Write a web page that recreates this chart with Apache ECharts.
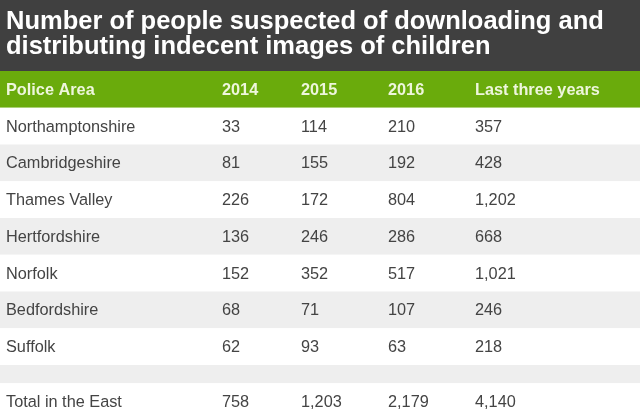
<!DOCTYPE html>
<html>
<head>
<meta charset="utf-8">
<script src="https://cdn.jsdelivr.net/npm/echarts@6/dist/echarts.min.js"></script>
<style>html,body{margin:0;padding:0;background:#fff}#main{width:640px;height:420px}</style>
</head>
<body>
<div id="main"></div>
<script>
// --- data ---
const titleText = 'Number of people suspected of downloading and\ndistributing indecent images of children';
const headers = ['Police Area', '2014', '2015', '2016', 'Last three years'];
const areas = ['Northamptonshire', 'Cambridgeshire', 'Thames Valley', 'Hertfordshire', 'Norfolk', 'Bedfordshire', 'Suffolk'];
const y2014 = [33, 81, 226, 136, 152, 68, 62];
const y2015 = [114, 155, 172, 246, 352, 71, 93];
const y2016 = [210, 192, 804, 286, 517, 107, 63];
const lastThree = [357, 428, 1202, 668, 1021, 246, 218];
const totalLabel = 'Total in the East';
const totals = [758, 1203, 2179, 4140];

// --- layout / styles ---
const colX = [6, 222, 301, 388, 475];
const FONT = '"Liberation Sans", Arial, Helvetica, sans-serif';
const fills = ['#ffffff', '#eeeeee', '#6aab0c'];
const fmt = v => Number(v).toLocaleString('en-US');

// row bands: [top, bottom, fillIndex] in row units
const bands = [[-1, 0, 2]];
areas.forEach((a, i) => bands.push([i, i + 1, i % 2]));
bands.push([7, 7.5, 1]);
bands.push([7.5, 8.5, 0]);

// cells: [x, yCenter], text + kind kept alongside
const cells = [], cellText = [], cellHead = [];
function addRow(vals, yc, head) {
  vals.forEach((v, c) => { cells.push([colX[c], yc]); cellText.push(v); cellHead.push(head); });
}
addRow(headers, -0.5, true);
areas.forEach((a, i) => addRow([a, fmt(y2014[i]), fmt(y2015[i]), fmt(y2016[i]), fmt(lastThree[i])], i + 0.5, false));
addRow([totalLabel].concat(totals.map(fmt)), 8, false);

const chart = echarts.init(document.getElementById('main'));
chart.setOption({
  animation: false,
  title: {
    text: titleText, left: 0, top: 0, padding: [9, 6],
    textStyle: { color: '#ffffff', fontSize: 25.5, fontWeight: 'bold', fontFamily: FONT, lineHeight: 25 }
  },
  graphic: [{ type: 'rect', z: -1, shape: { x: 0, y: 0, width: 640, height: 71 }, style: { fill: '#404040' } }],
  grid: { left: 0, right: 0, top: 71, height: 351.5 },
  xAxis: { type: 'value', min: 0, max: 640, show: false },
  yAxis: { type: 'value', min: -1, max: 8.5, inverse: true, show: false },
  series: [
    {
      type: 'custom', data: bands, silent: true,
      renderItem: (params, api) => {
        const p0 = api.coord([0, api.value(0)]);
        const p1 = api.coord([640, api.value(1)]);
        return { type: 'rect', shape: { x: p0[0], y: p0[1], width: p1[0] - p0[0], height: p1[1] - p0[1] }, style: { fill: fills[api.value(2)] } };
      }
    },
    {
      type: 'custom', data: cells, silent: true, z: 3,
      renderItem: (params, api) => {
        const p = api.coord([api.value(0), api.value(1)]);
        const head = cellHead[params.dataIndex];
        return {
          type: 'text', x: p[0], y: p[1] + 1,
          style: {
            text: cellText[params.dataIndex], fill: head ? '#eef6dc' : '#444444',
            fontSize: 16.3, fontWeight: head ? 'bold' : 'normal', fontFamily: FONT,
            align: 'left', verticalAlign: 'middle'
          }
        };
      }
    }
  ]
});
</script>
</body>
</html>
